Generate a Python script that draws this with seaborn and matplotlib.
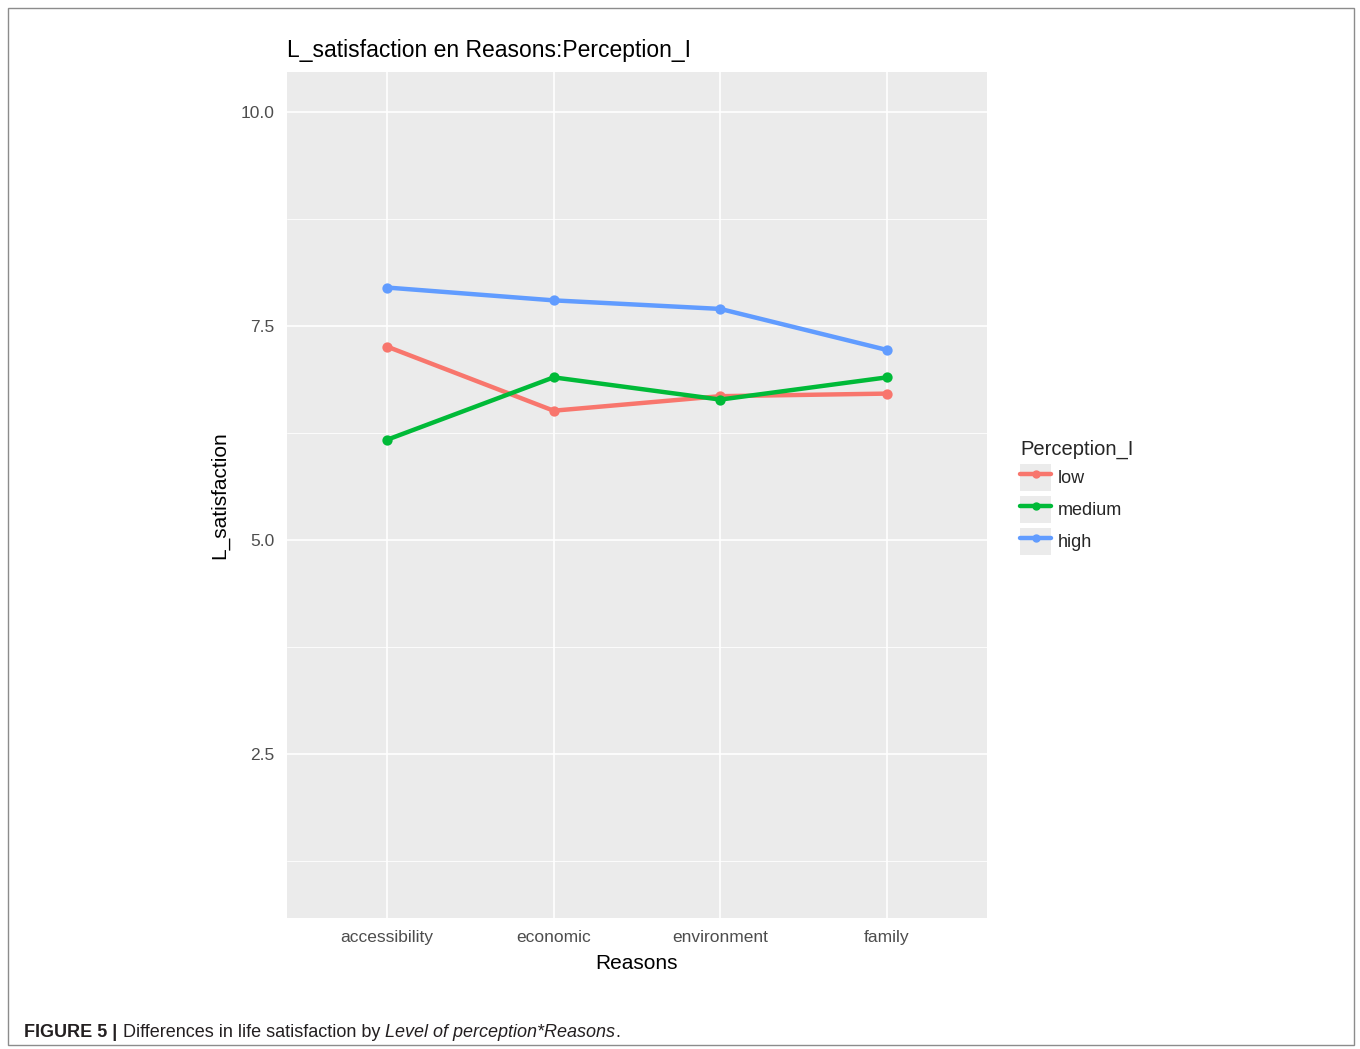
import pandas as pd
import numpy as np
import seaborn as sns
import matplotlib
matplotlib.use("Agg")
import matplotlib.pyplot as plt
from matplotlib import font_manager
from matplotlib.lines import Line2D
from matplotlib.patches import Patch, Rectangle
from matplotlib.legend_handler import HandlerTuple
from matplotlib.ticker import MultipleLocator

# values
reasons = ["accessibility", "economic", "environment", "family"]
levels = ["low", "medium", "high"]
low_vals = [7.26, 6.51, 6.68, 6.71]
medium_vals = [6.17, 6.90, 6.64, 6.90]
high_vals = [7.95, 7.80, 7.70, 7.22]
y_ticks = [2.5, 5.0, 7.5, 10.0]
colors = ["#F8766D", "#00BA38", "#619CFF"]

df = pd.DataFrame({
    "Reasons": reasons * 3,
    "Perception_I": np.repeat(levels, len(reasons)),
    "L_satisfaction": low_vals + medium_vals + high_vals,
})

sns.set_theme(style="darkgrid")
plt.rcParams["font.family"] = ["Liberation Sans", "DejaVu Sans"]

fig = plt.figure(figsize=(13.6, 10.49), dpi=100)
ax = fig.add_axes([0.211, 0.1249, 0.5147, 0.8065])
ax.set_facecolor("#EBEBEB")

sns.pointplot(data=df, x="Reasons", y="L_satisfaction", hue="Perception_I",
              hue_order=levels, order=reasons, palette=colors, errorbar=None,
              markers="o", markersize=5, linewidth=3.2, ax=ax)
if ax.get_legend() is not None:
    ax.get_legend().remove()

ax.set_xlim(-0.6, 3.6)
ax.set_ylim(0.58, 10.47)
ax.set_yticks(y_ticks)
ax.set_yticklabels([f"{v:.1f}" for v in y_ticks])
ax.yaxis.set_minor_locator(MultipleLocator(1.25))
ax.grid(which="major", color="white", linewidth=1.2)
ax.grid(which="minor", axis="y", color="white", linewidth=0.6)
ax.set_axisbelow(True)
for s in ax.spines.values():
    s.set_visible(False)
ax.tick_params(axis="both", which="major", length=5, width=1, color="#333333",
               labelsize=12.5, labelcolor="#4D4D4D", pad=4)
ax.tick_params(axis="y", which="minor", length=0)

ax.set_xlabel("Reasons", fontsize=15, color="black", labelpad=6)
ax.set_ylabel("L_satisfaction", fontsize=15, color="black", labelpad=8)
ax.set_title("L_satisfaction en Reasons:Perception_I", loc="left",
             fontsize=16.5, color="black", pad=11)

handles = [(Patch(facecolor="#EBEBEB", edgecolor="none"),
            Line2D([], [], color=c, linewidth=3.2, marker="o", markersize=5))
           for c in colors]
leg = fig.legend(handles, levels, handler_map={tuple: HandlerTuple(ndivide=1, pad=0)},
                 title="Perception_I", loc="upper left",
                 bbox_to_anchor=(0.745, 0.588), frameon=False,
                 fontsize=13, title_fontsize=14.5, handlelength=1.7,
                 handleheight=1.9, handletextpad=0.35, labelspacing=0.3,
                 borderaxespad=0)
leg._legend_box.align = "left"

# outer border of the figure panel
fig.patches.append(Rectangle((0.006, 0.004), 0.9895, 0.9885, transform=fig.transFigure,
                             fill=False, edgecolor="#8c8c8c", linewidth=1))

# caption
names = {f.name for f in font_manager.fontManager.ttflist}
cap_font = "Liberation Sans Narrow" if "Liberation Sans Narrow" in names else "Liberation Sans"
renderer = fig.canvas.get_renderer()
x0, yc = 0.018, 0.011
parts = [("FIGURE 5 | ", "bold", "normal"),
         ("Differences in life satisfaction by ", "normal", "normal"),
         ("Level of perception*Reasons", "normal", "italic"),
         (".", "normal", "normal")]
for txt, w, st in parts:
    t = fig.text(x0, yc, txt, fontsize=13, fontweight=w, fontstyle=st,
                 family=cap_font, color="#231F20", va="baseline")
    bb = t.get_window_extent(renderer)
    x0 += bb.width / fig.bbox.width

fig.savefig("out.png", dpi=100)
